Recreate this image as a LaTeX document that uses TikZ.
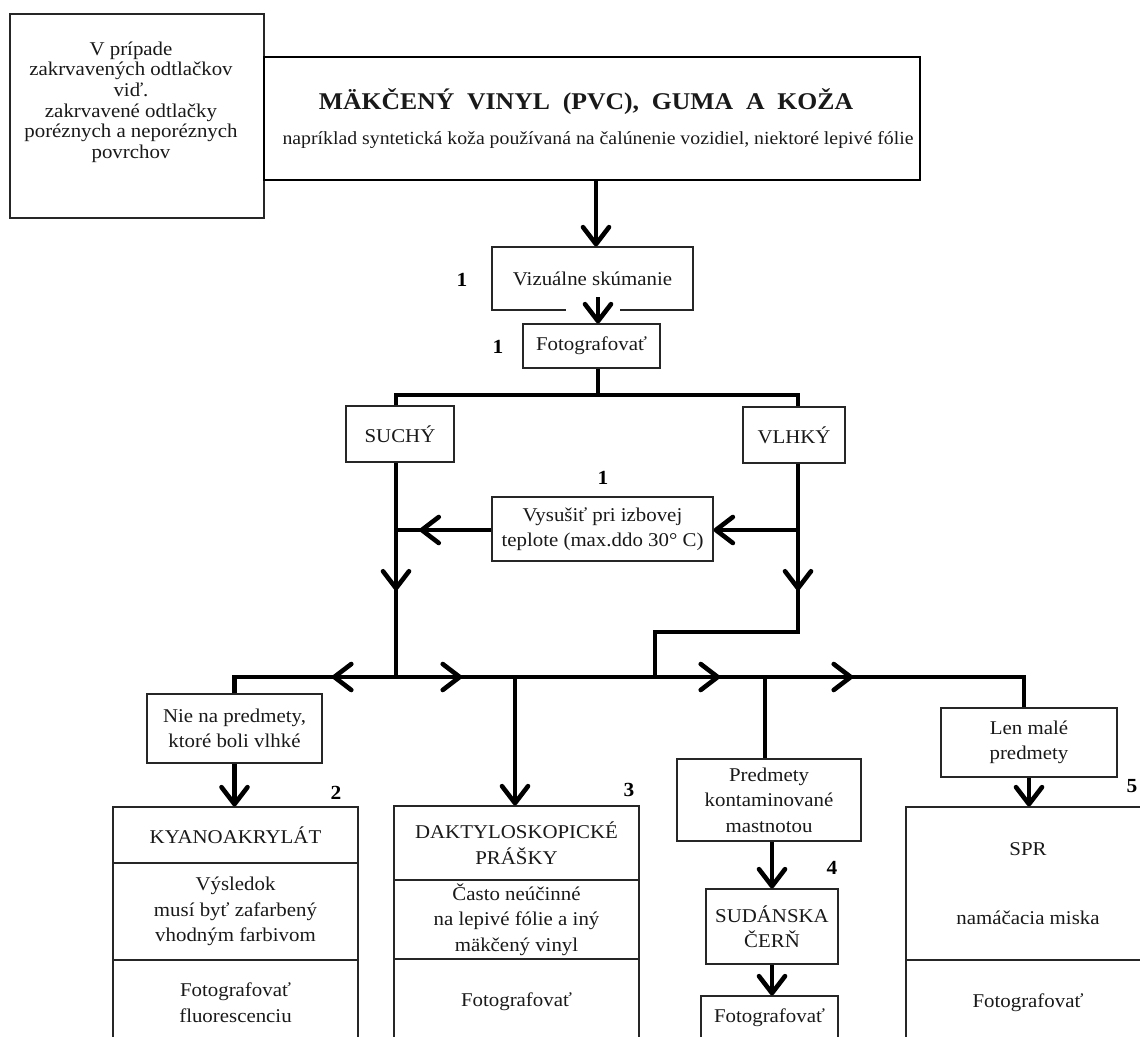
\documentclass[tikz,border=0pt]{standalone}
\usepackage{fontspec}
\setmainfont[FakeStretch=1.07]{Liberation Serif}
\usetikzlibrary{arrows.meta,decorations.markings}
\tikzset{
  barb/.tip={Straight Barb[length=17pt,width=26pt,round]},
  box/.style={draw=black!85,line width=1.1pt,rectangle,inner sep=0pt,align=center,
    font=\fontsize{19.5}{25.5}\selectfont,text=black!90},
  conn/.style={line width=4.6pt,black},
  num/.style={font=\fontsize{20}{24}\selectfont\bfseries,inner sep=0pt},
  tipat/.style={decoration={markings,mark=at position #1 with {\arrow{barb}}},postaction={decorate}},
}
\begin{document}
\begin{tikzpicture}[x=1pt,y=-1pt]
\useasboundingbox (0,0) rectangle (1140,1036);
\clip (0,0) rectangle (1140,1036);
\fill[white] (0,0) rectangle (1140,1036);

% column positions of the connectors
\coordinate (colT) at (596,0);
\coordinate (colS) at (396,0);
\coordinate (colV) at (798,0);
\coordinate (colR) at (1024,0);
\coordinate (split) at (598,395);
\coordinate (bus) at (396,677);
\coordinate (step) at (655,632);
\coordinate (vjoin) at (798,530);
\coordinate (sjoin) at (396,530);
\coordinate (jD) at (515,677);
\coordinate (jP) at (765,677);
\coordinate (visin) at (598,297);

% header
\node[box,line width=1.4pt,minimum width=254,minimum height=204] (tl) at (137,116) {};
\node[align=center,font=\fontsize{19.5}{20.6}\selectfont,text=black!90,inner sep=0pt] (tltext) at (131,102)
  {V prípade\\ zakrvavených odtlačkov\\ viď.\\ zakrvavené odtlačky\\ poréznych a neporéznych\\ povrchov};
\node[draw=black,line width=2.4pt,minimum width=656,minimum height=123,inner sep=0pt] (title) at (592,118.5) {};
\node[font=\fontsize{24}{28}\selectfont\bfseries,text=black!90,inner sep=0pt] (ttl) at (586,101.5)
  {MÄKČENÝ\ \ VINYL\ \ (PVC),\ \ GUMA\ \ A\ \ KOŽA};
\node[font=\fontsize{18.5}{22}\selectfont,text=black!90,inner sep=0pt] (sub) at (598,140)
  {napríklad syntetická koža používaná na čalúnenie vozidiel, niektoré lepivé fólie};

% examination
\node[box,minimum width=201,minimum height=63] (vis) at (592.5,278.5) {Vizuálne skúmanie};
\node[box,minimum width=137,minimum height=44] (foto1) at (591.5,346) {Fotografovať};
\node[num] (n1a) at (462,280) {1};
\node[num] (n1b) at (498,347) {1};

% dry / wet
\node[box,minimum width=108,minimum height=56] (suchy) at (400,434) {SUCHÝ};
\node[box,minimum width=102,minimum height=56] (vlhky) at (794,435) {VLHKÝ};
\node[box,minimum width=221,minimum height=64] (vys) at (602.5,529) {Vysušiť pri izbovej\\ teplote (max.ddo 30° C)};
\node[num] (n1c) at (603,478) {1};

% methods
\node[box,minimum width=175,minimum height=69] (nie) at (234.5,728.5) {Nie na predmety,\\ ktoré boli vlhké};
\node[box,minimum width=245,minimum height=56] (kyA) at (235.5,835) {KYANOAKRYLÁT};
\node[box,minimum width=245,minimum height=97] (kyB) at (235.5,911.5) {Výsledok\\ musí byť zafarbený\\ vhodným farbivom};
\node[box,minimum width=245,minimum height=85] (kyC) at (235.5,1002.5) {Fotografovať\\ fluorescenciu};
\node[num] (n2) at (336,793) {2};

\node[box,minimum width=245,minimum height=74] (dkA) at (516.5,843) {DAKTYLOSKOPICKÉ\\ PRÁŠKY};
\node[box,minimum width=245,minimum height=79] (dkB) at (516.5,919.5) {Často neúčinné\\ na lepivé fólie a iný\\ mäkčený vinyl};
\node[box,minimum width=245,minimum height=86] (dkC) at (516.5,1002) {Fotografovať};
\node[num] (n3) at (629,790) {3};

\node[box,minimum width=184,minimum height=82] (pred) at (769,800) {Predmety\\ kontaminované\\ mastnotou};
\node[box,minimum width=132,minimum height=75] (sud) at (772,926.5) {SUDÁNSKA\\ ČERŇ};
\node[box,minimum width=137,minimum height=44] (foto4) at (769.5,1018) {Fotografovať};
\node[num] (n4) at (832,868) {4};

\node[box,minimum width=176,minimum height=69] (len) at (1029,742.5) {Len malé\\ predmety};
\node[box,minimum width=244,minimum height=153] (sprA) at (1028,883.5) {SPR\\[44pt] namáčacia miska};
\node[box,minimum width=244,minimum height=85] (sprC) at (1028,1002.5) {Fotografovať};
\node[num] (n5) at (1132,786) {5};

% connectors
\draw[conn,-barb] (colT |- title.south) -- (colT |- vis.north);
\fill[white] (566,306) rectangle (620,314);
\draw[conn,-barb] (visin) -- (visin |- foto1.north);
\draw[conn] (split |- foto1.south) -- (split);
\draw[conn] (colS |- suchy.north) |- (split) -| (colV |- vlhky.north);

\draw[conn,tipat=128pt] (colS |- suchy.south) -- (bus);
\draw[conn,tipat=127pt] (colV |- vlhky.south) -- (colV |- step) -- (step) -- (step |- bus);
\draw[conn,-barb] (vjoin) -- (vjoin -| vys.east);
\draw[conn,tipat=72pt] (vys.west |- sjoin) -- (sjoin);

\draw[conn,tipat=64pt] (bus) -- (nie.north |- bus) -- (nie.north);
\draw[conn,decoration={markings,
    mark=at position 66pt with {\arrow{barb}},
    mark=at position 324pt with {\arrow{barb}},
    mark=at position 457pt with {\arrow{barb}}},postaction={decorate}]
  (bus) -- (colR |- bus) -- (colR |- len.north);
\draw[conn,-barb] (jD) -- (jD |- dkA.north);
\draw[conn] (jP) -- (jP |- pred.north);

\draw[conn,-barb] (nie.south) -- (nie.south |- kyA.north);
\draw[conn,-barb] (sud.north |- pred.south) -- (sud.north);
\draw[conn,-barb] (sud.south) -- (sud.south |- foto4.north);
\draw[conn,-barb] (len.south) -- (len.south |- sprA.north);
\end{tikzpicture}
\end{document}
